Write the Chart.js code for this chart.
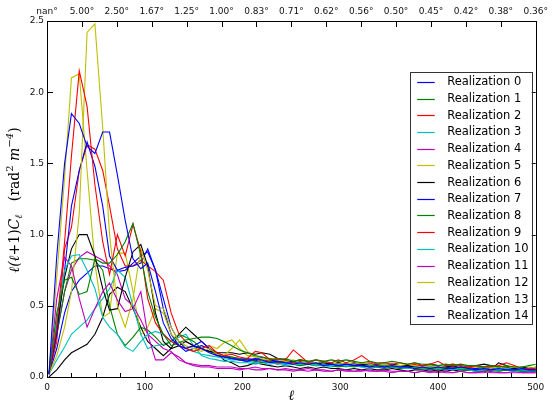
<!DOCTYPE html>
<html><head><meta charset="utf-8">
<script src="https://cdn.jsdelivr.net/npm/chart.js@4.4.1/dist/chart.umd.min.js"></script>
<style>html,body{margin:0;padding:0;background:#fff;}canvas{display:block;}</style>
</head><body><canvas id="c" width="552" height="402"></canvas>
<script>
const ell = [2,10,18,25,33,41,49,57,64,72,80,88,96,
  103,111,119,127,135,142,150,158,166,174,181,189,197,
  205,213,220,228,236,244,252,259,267,275,283,291,298,
  306,314,322,330,337,345,353,361,369,376,384,392,400,
  408,415,423,431,439,447,454,462,470,478,486,493,501];

const seriesNames = ['Realization 0','Realization 1','Realization 2','Realization 3','Realization 4',
  'Realization 5','Realization 6','Realization 7','Realization 8','Realization 9',
  'Realization 10','Realization 11','Realization 12','Realization 13','Realization 14'];
const seriesColors = ['#0000ff','#008000','#ff0000','#00bfbf','#bf00bf','#bfbf00','#000000',
  '#0000ff','#008000','#ff0000','#00bfbf','#bf00bf','#bfbf00','#000000','#0000ff'];

const xLabels = ['0','100','200','300','400','500'];
const yLabels = ['0.0','0.5','1.0','1.5','2.0','2.5'];
const topLabels = ['nan°','5.00°','2.50°','1.67°','1.25°','1.00°','0.83°','0.71°','0.62°','0.56°','0.50°','0.45°','0.42°','0.38°','0.36°'];

const real0 = [0.02,0.85,1.50,1.85,1.78,1.62,1.57,1.72,1.72,1.42,1.10,0.83,0.76,
  0.80,0.60,0.38,0.27,0.22,0.20,0.22,0.20,0.17,0.15,0.14,0.13,0.12,
  0.11,0.13,0.12,0.10,0.11,0.10,0.09,0.10,0.09,0.10,0.08,0.09,0.08,
  0.09,0.08,0.08,0.07,0.08,0.07,0.08,0.07,0.07,0.06,0.07,0.06,0.07,
  0.06,0.06,0.07,0.06,0.05,0.06,0.05,0.06,0.05,0.05,0.06,0.05,0.05];
const real1 = [0.02,0.45,0.68,0.70,0.58,0.60,0.83,0.80,0.80,0.86,0.95,1.08,0.85,
  0.60,0.42,0.30,0.22,0.24,0.26,0.27,0.28,0.28,0.27,0.25,0.22,0.19,
  0.17,0.15,0.14,0.13,0.12,0.13,0.11,0.12,0.11,0.12,0.11,0.12,0.11,
  0.12,0.11,0.10,0.11,0.10,0.10,0.11,0.10,0.09,0.10,0.09,0.09,0.08,
  0.09,0.08,0.09,0.08,0.08,0.07,0.08,0.07,0.08,0.07,0.07,0.08,0.09];
const real2 = [0.02,0.35,0.95,1.55,2.15,1.90,1.35,0.95,0.72,1.00,0.85,1.07,0.88,
  0.55,0.38,0.30,0.25,0.22,0.20,0.18,0.20,0.22,0.17,0.15,0.16,0.14,
  0.13,0.18,0.17,0.12,0.13,0.12,0.19,0.15,0.10,0.12,0.11,0.10,0.12,
  0.10,0.12,0.15,0.11,0.09,0.10,0.09,0.10,0.09,0.10,0.08,0.09,0.11,
  0.08,0.09,0.08,0.07,0.08,0.07,0.07,0.08,0.10,0.08,0.06,0.06,0.06];
const real3 = [0.02,0.40,0.75,0.85,0.86,0.75,0.62,0.42,0.35,0.30,0.21,0.18,0.25,
  0.30,0.32,0.30,0.25,0.22,0.20,0.18,0.16,0.15,0.14,0.13,0.12,0.12,
  0.11,0.10,0.11,0.10,0.09,0.10,0.09,0.09,0.10,0.08,0.09,0.08,0.09,
  0.08,0.08,0.07,0.08,0.07,0.08,0.07,0.07,0.06,0.07,0.06,0.07,0.06,
  0.06,0.05,0.06,0.06,0.05,0.06,0.05,0.05,0.06,0.05,0.05,0.04,0.05];
const real4 = [0.02,0.55,0.84,0.78,0.55,0.35,0.48,0.60,0.66,0.54,0.46,0.48,0.60,
  0.30,0.12,0.12,0.17,0.14,0.10,0.08,0.07,0.07,0.06,0.06,0.06,0.05,
  0.06,0.05,0.05,0.06,0.05,0.05,0.04,0.05,0.04,0.05,0.04,0.04,0.05,
  0.04,0.04,0.04,0.05,0.04,0.04,0.03,0.04,0.04,0.03,0.04,0.03,0.04,
  0.03,0.03,0.04,0.03,0.03,0.03,0.04,0.03,0.03,0.03,0.03,0.03,0.03];
const real5 = [0.02,0.15,0.35,0.60,1.15,2.42,2.48,1.75,1.00,0.50,0.35,0.55,0.90,
  0.75,0.50,0.48,0.35,0.25,0.22,0.20,0.18,0.20,0.16,0.15,0.20,0.26,
  0.18,0.14,0.13,0.12,0.13,0.11,0.12,0.10,0.11,0.10,0.11,0.10,0.09,
  0.10,0.09,0.10,0.09,0.08,0.09,0.08,0.08,0.09,0.08,0.07,0.08,0.07,
  0.08,0.09,0.07,0.08,0.07,0.07,0.06,0.07,0.06,0.07,0.06,0.06,0.07];
const real6 = [0.02,0.35,0.70,0.90,1.00,1.00,0.85,0.62,0.47,0.48,0.70,0.88,0.93,
  0.78,0.45,0.25,0.20,0.22,0.25,0.22,0.20,0.18,0.17,0.17,0.17,0.16,
  0.17,0.16,0.17,0.16,0.13,0.12,0.11,0.12,0.11,0.10,0.10,0.09,0.10,
  0.09,0.10,0.09,0.08,0.09,0.08,0.09,0.08,0.08,0.07,0.08,0.09,0.08,
  0.07,0.08,0.07,0.07,0.08,0.09,0.08,0.07,0.07,0.06,0.07,0.06,0.07];
const real7 = [0.02,0.30,0.75,1.20,1.45,1.65,1.48,1.20,0.85,0.75,0.77,0.78,0.80,
  0.90,0.75,0.55,0.35,0.25,0.20,0.22,0.25,0.20,0.16,0.14,0.13,0.12,
  0.13,0.12,0.14,0.12,0.11,0.10,0.11,0.10,0.09,0.10,0.09,0.10,0.09,
  0.08,0.09,0.08,0.09,0.08,0.07,0.08,0.07,0.08,0.07,0.07,0.06,0.07,
  0.07,0.06,0.07,0.06,0.06,0.07,0.06,0.05,0.06,0.06,0.05,0.05,0.05];
const real8 = [0.02,0.30,0.60,0.80,0.83,0.83,0.82,0.75,0.50,0.30,0.22,0.28,0.35,
  0.33,0.28,0.22,0.25,0.30,0.28,0.25,0.20,0.18,0.16,0.15,0.14,0.13,
  0.12,0.11,0.10,0.11,0.09,0.10,0.09,0.08,0.09,0.08,0.09,0.08,0.07,
  0.08,0.07,0.08,0.07,0.07,0.06,0.07,0.06,0.07,0.06,0.06,0.05,0.06,
  0.05,0.06,0.05,0.05,0.06,0.05,0.05,0.04,0.05,0.05,0.04,0.05,0.04];
const real9 = [0.02,0.25,0.90,1.05,1.45,1.63,1.60,1.45,1.20,0.90,0.78,0.78,0.82,
  0.78,0.74,0.68,0.45,0.30,0.25,0.22,0.20,0.18,0.17,0.15,0.14,0.13,
  0.12,0.13,0.11,0.12,0.10,0.11,0.10,0.11,0.09,0.10,0.11,0.09,0.10,
  0.09,0.08,0.09,0.10,0.08,0.09,0.08,0.07,0.08,0.09,0.07,0.08,0.07,
  0.08,0.07,0.08,0.07,0.06,0.07,0.08,0.07,0.06,0.07,0.06,0.06,0.05];
const real10 = [0.02,0.12,0.21,0.30,0.35,0.40,0.48,0.55,0.62,0.75,0.70,0.50,0.30,
  0.20,0.22,0.23,0.25,0.28,0.30,0.22,0.15,0.13,0.12,0.11,0.11,0.10,
  0.10,0.09,0.10,0.09,0.10,0.08,0.09,0.08,0.09,0.08,0.08,0.07,0.08,
  0.07,0.08,0.07,0.06,0.07,0.06,0.07,0.06,0.06,0.07,0.06,0.05,0.06,
  0.05,0.06,0.05,0.05,0.04,0.05,0.05,0.04,0.05,0.04,0.04,0.05,0.04];
const real11 = [0.02,0.30,0.60,0.75,0.84,0.88,0.85,0.82,0.78,0.72,0.55,0.50,0.40,
  0.30,0.25,0.20,0.18,0.12,0.10,0.09,0.08,0.08,0.07,0.07,0.07,0.06,
  0.06,0.07,0.06,0.06,0.05,0.06,0.05,0.05,0.06,0.05,0.05,0.04,0.05,
  0.05,0.04,0.05,0.04,0.04,0.05,0.04,0.04,0.04,0.03,0.04,0.04,0.03,
  0.04,0.03,0.04,0.03,0.03,0.04,0.03,0.03,0.03,0.04,0.03,0.03,0.03];
const real12 = [0.02,0.70,1.40,2.10,2.13,1.45,0.80,0.42,0.45,0.87,0.87,0.60,0.30,
  0.35,0.48,0.45,0.30,0.25,0.22,0.20,0.20,0.22,0.20,0.24,0.26,0.20,
  0.15,0.14,0.12,0.13,0.11,0.12,0.10,0.11,0.10,0.09,0.10,0.09,0.10,
  0.09,0.08,0.09,0.08,0.09,0.08,0.07,0.08,0.07,0.08,0.07,0.08,0.07,
  0.07,0.06,0.07,0.08,0.07,0.06,0.07,0.06,0.07,0.06,0.06,0.07,0.06];
const real13 = [0.00,0.05,0.12,0.17,0.20,0.23,0.30,0.42,0.58,0.63,0.60,0.48,0.35,
  0.25,0.20,0.15,0.20,0.30,0.35,0.30,0.25,0.20,0.17,0.12,0.10,0.07,
  0.08,0.10,0.09,0.08,0.07,0.08,0.07,0.06,0.07,0.06,0.07,0.06,0.06,
  0.05,0.06,0.05,0.06,0.05,0.05,0.06,0.05,0.04,0.05,0.05,0.04,0.05,
  0.04,0.05,0.04,0.05,0.04,0.04,0.05,0.10,0.08,0.05,0.04,0.04,0.04];
const real14 = [0.02,0.20,0.45,0.60,0.68,0.73,0.78,0.78,0.76,0.74,0.75,0.80,0.85,
  0.88,0.75,0.48,0.30,0.22,0.18,0.20,0.22,0.20,0.15,0.15,0.13,0.12,
  0.11,0.12,0.10,0.11,0.10,0.09,0.10,0.09,0.10,0.09,0.08,0.09,0.08,
  0.08,0.09,0.08,0.07,0.08,0.07,0.08,0.07,0.06,0.07,0.06,0.07,0.06,
  0.06,0.07,0.06,0.06,0.05,0.06,0.06,0.05,0.06,0.05,0.05,0.06,0.05];

const seriesValues = [real0,real1,real2,real3,real4,real5,real6,real7,real8,real9,real10,real11,real12,real13,real14];

const datasets = seriesValues.map((vals, k) => ({
  label: seriesNames[k],
  data: vals.map((v, i) => ({x: ell[i], y: v})),
  borderColor: seriesColors[k],
  backgroundColor: seriesColors[k],
  borderWidth: 1.1,
  pointRadius: 0,
  tension: 0,
  fill: false
}));

const TICKFONT = {family: 'DejaVu Sans', size: 9};

const decorPlugin = {
  id: 'decor',
  afterDatasetsDraw(chart) {
    const {ctx, chartArea: a, scales} = chart;
    const xs = scales.x, ys = scales.y, xt = scales.x2;
    ctx.save();
    ctx.strokeStyle = '#000';
    ctx.lineWidth = 1;
    ctx.beginPath();
    // bottom ticks (major / minor)
    xs.ticks.forEach(t => {
      const px = Math.round(xs.getPixelForValue(t.value)) + 0.5;
      const len = (t.label !== '') ? 6 : 4;
      ctx.moveTo(px, a.bottom); ctx.lineTo(px, a.bottom - len);
    });
    // top ticks
    xt.ticks.forEach(t => {
      const px = Math.round(xt.getPixelForValue(t.value)) + 0.5;
      ctx.moveTo(px, a.top); ctx.lineTo(px, a.top + 6);
    });
    // left / right ticks
    ys.ticks.forEach(t => {
      const py = Math.round(ys.getPixelForValue(t.value)) + 0.5;
      ctx.moveTo(a.left, py); ctx.lineTo(a.left + 6, py);
      ctx.moveTo(a.right, py); ctx.lineTo(a.right - 6, py);
    });
    ctx.stroke();
    // frame
    ctx.strokeRect(Math.round(a.left) + 0.5, Math.round(a.top) + 0.5,
      Math.round(a.right - a.left), Math.round(a.bottom - a.top));
    ctx.restore();
  },
  afterDraw(chart) {
    const {ctx, chartArea: a} = chart;
    ctx.save();
    // legend
    const lx = a.right - 126, ly = a.top + 51, lw = 122, lh = 252;
    ctx.fillStyle = '#fff';
    ctx.fillRect(lx, ly, lw, lh);
    ctx.strokeStyle = '#333';
    ctx.lineWidth = 1;
    ctx.strokeRect(Math.round(lx) + 0.5, Math.round(ly) + 0.5, lw, lh);
    ctx.font = '11.5px "DejaVu Sans"';
    ctx.textBaseline = 'middle';
    ctx.textAlign = 'left';
    chart.data.datasets.forEach((d, i) => {
      const yy = ly + 9.8 + i * 16.71;
      ctx.strokeStyle = d.borderColor;
      ctx.lineWidth = 1.2;
      ctx.beginPath();
      ctx.moveTo(lx + 7.5, Math.round(yy) + 0.5);
      ctx.lineTo(lx + 25, Math.round(yy) + 0.5);
      ctx.stroke();
      ctx.fillStyle = '#000';
      ctx.fillText(d.label, lx + 37.5, yy + 0.5);
    });
    // x title
    ctx.fillStyle = '#000';
    ctx.font = 'italic 14px "DejaVu Serif"';
    ctx.textAlign = 'center';
    ctx.textBaseline = 'alphabetic';
    ctx.fillText('ℓ', (a.left + a.right) / 2, 400);
    // y title with sub/superscripts
    const segs = [
      {t: 'ℓ(ℓ', f: 'italic 14px "DejaVu Serif"', dy: 0},
      {t: '+1)', f: '14px "DejaVu Serif"', dy: 0},
      {t: 'C', f: 'italic 14px "DejaVu Serif"', dy: 0},
      {t: 'ℓ', f: 'italic 10px "DejaVu Serif"', dy: 3},
      {t: '   (rad', f: '14px "DejaVu Serif"', dy: 0},
      {t: '2', f: '10px "DejaVu Serif"', dy: -6},
      {t: ' m', f: 'italic 14px "DejaVu Serif"', dy: 0},
      {t: '−4', f: 'italic 10px "DejaVu Serif"', dy: -6},
      {t: ')', f: '14px "DejaVu Serif"', dy: 0}
    ];
    let total = 0;
    segs.forEach(s => { ctx.font = s.f; s.w = ctx.measureText(s.t).width; total += s.w; });
    ctx.translate(19, (a.top + a.bottom) / 2 + 1);
    ctx.rotate(-Math.PI / 2);
    ctx.textAlign = 'left';
    let cx = -total / 2;
    segs.forEach(s => { ctx.font = s.f; ctx.fillText(s.t, cx, s.dy); cx += s.w; });
    ctx.restore();
  }
};

new Chart(document.getElementById('c'), {
  type: 'line',
  data: {datasets},
  options: {
    responsive: false,
    animation: false,
    devicePixelRatio: 1,
    layout: {padding: {left: 0, right: 15, top: 0, bottom: 0}},
    plugins: {legend: {display: false}, tooltip: {enabled: false}},
    scales: {
      x: {
        type: 'linear', position: 'bottom', min: 0, max: 500,
        grid: {display: false, drawTicks: false},
        border: {display: false},
        ticks: {
          stepSize: 25, autoSkip: false, maxRotation: 0, padding: 5,
          font: TICKFONT, color: '#111',
          callback: (v) => (v % 100 === 0 ? xLabels[v / 100] : '')
        },
        afterFit: (s) => { s.height = 25; }
      },
      x2: {
        type: 'linear', position: 'top', min: 0, max: 504,
        grid: {display: false, drawTicks: false},
        border: {display: false},
        ticks: {
          stepSize: 36, autoSkip: false, maxRotation: 0, padding: 4,
          font: TICKFONT, color: '#111',
          callback: (v, i) => topLabels[i]
        },
        afterFit: (s) => { s.height = 21; }
      },
      y: {
        type: 'linear', min: 0, max: 2.5,
        grid: {display: false, drawTicks: false},
        border: {display: false},
        ticks: {
          stepSize: 0.5, padding: 3, font: TICKFONT, color: '#111',
          callback: (v, i) => yLabels[i]
        },
        afterFit: (s) => { s.width = 47; }
      }
    }
  },
  plugins: [decorPlugin]
});
</script>
</body></html>
